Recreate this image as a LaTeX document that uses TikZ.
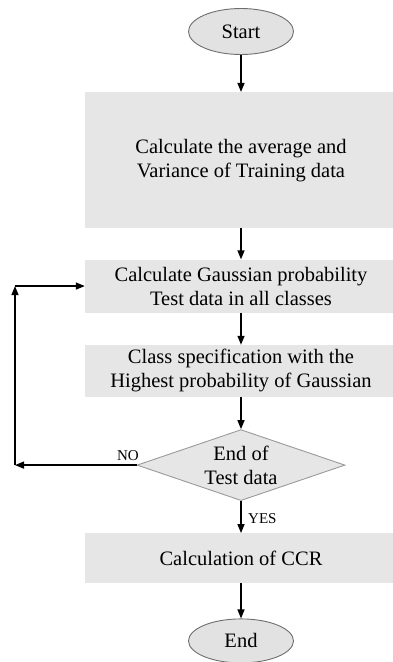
\documentclass[tikz,border=0pt]{standalone}
\usepackage{fontspec}
\setmainfont{Liberation Serif}
\usetikzlibrary{arrows.meta,positioning,shapes.geometric}
\definecolor{boxf}{HTML}{E6E6E6}
\definecolor{ellf}{HTML}{E2E2E2}
\definecolor{ellb}{HTML}{6E6E6E}
\definecolor{decb}{HTML}{9A9A9A}

\begin{document}
\begin{tikzpicture}[x=1pt,y=-1pt,
  font=\fontsize{20.5}{24}\selectfont,
  term/.style={ellipse,draw=ellb,fill=ellf,line width=0.9pt,minimum width=105pt,minimum height=46pt,inner sep=0pt},
  proc/.style={fill=boxf,align=center,minimum width=312pt,inner sep=2pt},
  dec/.style={diamond,draw=decb,fill=boxf,line width=0.9pt,aspect=2.9,align=center,minimum width=208pt,minimum height=71pt,inner sep=1pt},
  flow/.style={-{Triangle[length=9pt,width=7pt]},line width=1.4pt},
  lbl/.style={font=\fontsize{15}{17}\selectfont,inner sep=1pt}]
\useasboundingbox (0,0) rectangle (393,662);
\node[term] (start) at (241,31.5) {Start};
\node[proc,minimum height=136pt,below=37pt of start] (avg) {Calculate the average and\\ Variance of Training data};
\node[proc,minimum height=53pt,below=31pt of avg] (gauss) {Calculate Gaussian probability\\Test data in all classes};
\node[proc,minimum height=52pt,below=32pt of gauss] (spec) {Class specification with the\\Highest probability of Gaussian};
\node[dec,below=32pt of spec] (test) {End of\\Test data};
\node[proc,minimum height=50pt,below=32pt of test] (ccr) {Calculation of CCR};
\node[term,minimum height=44pt,below=35pt of ccr] (stop) {End};
\foreach \a/\b in {start/avg,avg/gauss,gauss/spec,spec/test,test/ccr,ccr/stop} \draw[flow] (\a.south)--(\b.north);
% loop back
\coordinate (lb) at (15,0 |- test.west);
\coordinate (lt) at (15,0 |- gauss.west);
\draw[flow] (test.west) -- (lb);
\draw[flow] (lb) -- (lt);
\draw[flow] (lt) -- (gauss.west);
\node[lbl,anchor=south] (no) at (128,462) {NO};
\node[lbl,anchor=west] (yes) at (247,519) {YES};
\end{tikzpicture}
\end{document}
